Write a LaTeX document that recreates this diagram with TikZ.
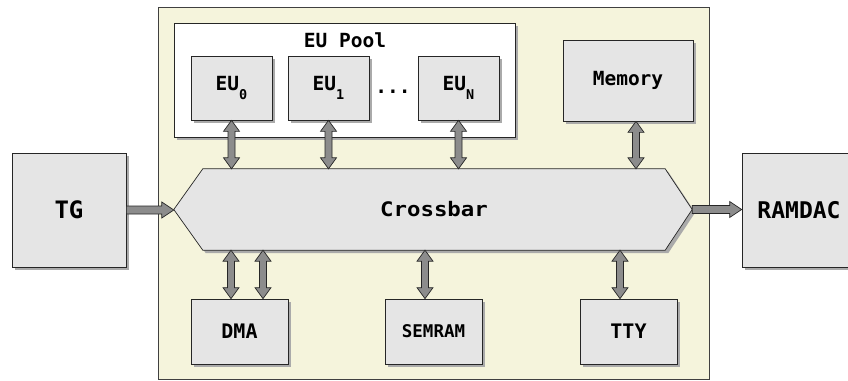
\documentclass[tikz,border=0pt]{standalone}
\usepackage{fontspec}
\setmonofont{DejaVu Sans Mono}
\usetikzlibrary{shadows,backgrounds,calc}
\definecolor{panelfill}{RGB}{245,244,220}
\definecolor{boxfill}{RGB}{229,229,229}
\definecolor{arrowfill}{RGB}{140,140,140}
\definecolor{shadowgray}{RGB}{170,170,170}
\newcommand{\fsz}[1]{\fontsize{#1}{#1}\selectfont}
\newcommand{\vfat}[2]{%
  \path[fatarrow] let \p1=(#1), \p2=(#2) in
    (\x1,\y1) -- (\x1+8pt,\y1-11pt) -- (\x1+3.5pt,\y1-11pt) -- (\x1+3.5pt,\y2+11pt)
    -- (\x1+8pt,\y2+11pt) -- (\x1,\y2) -- (\x1-8pt,\y2+11pt) -- (\x1-3.5pt,\y2+11pt)
    -- (\x1-3.5pt,\y1-11pt) -- (\x1-8pt,\y1-11pt) -- cycle;}
\newcommand{\hfat}[2]{%
  \path[fatarrow] let \p1=(#1), \p2=(#2) in
    (\x1,\y1+4pt) -- (\x2-12pt,\y1+4pt) -- (\x2-12pt,\y1+8pt) -- (\x2,\y1)
    -- (\x2-12pt,\y1-8pt) -- (\x2-12pt,\y1-4pt) -- (\x1,\y1-4pt) -- cycle;}
\newcommand{\EUlabel}[1]{EU\raisebox{-8.5pt}{\fsz{13.5}#1}}
\tikzset{
  blockbox/.style={draw=black!85, line width=0.7pt, fill=boxfill, inner sep=0pt,
    drop shadow={shadow xshift=3pt, shadow yshift=-3pt, fill=shadowgray, opacity=1},
    font=\ttfamily\bfseries\fsz{19.5}},
  poolbox/.style={draw=black!85, line width=0.7pt, fill=white, inner sep=0pt,
    drop shadow={shadow xshift=3pt, shadow yshift=-3pt, fill=shadowgray, opacity=1}},
  fatarrow/.style={draw=black!85, line width=0.7pt, fill=arrowfill},
  plaintext/.style={inner sep=0pt, font=\ttfamily\bfseries\fsz{19.5}}
}
\begin{document}
\begin{tikzpicture}[x=1pt,y=-1pt]
\useasboundingbox (0,0) rectangle (848,380);
\clip (0,0) rectangle (848,380);
% crossbar text holder
\node[inner sep=0pt, minimum width=462pt, minimum height=81pt,
  font=\ttfamily\bfseries\fsz{20}] (xb) at (434,209.5) {\scalebox{1.12}[1]{Crossbar}};
\begin{scope}[on background layer]
  \draw[draw=black!75, line width=0.7pt, fill=panelfill] (158,7) rectangle (709,379);
  \fill[shadowgray] ([shift={(3pt,-3pt)}]xb.north west) -- ([shift={(3pt,-3pt)}]xb.north east)
    -- ([shift={(30pt,-3pt)}]xb.east) -- ([shift={(3pt,-3pt)}]xb.south east)
    -- ([shift={(3pt,-3pt)}]xb.south west) -- ([shift={(-26pt,-3pt)}]xb.west) -- cycle;
  \draw[draw=black!85, line width=0.7pt, fill=boxfill] (xb.north west) -- (xb.north east)
    -- ([xshift=27pt]xb.east) -- (xb.south east) -- (xb.south west)
    -- ([xshift=-29pt]xb.west) -- cycle;
\end{scope}
\coordinate (xbL) at ([xshift=-29pt]xb.west);
\coordinate (xbR) at ([xshift=27pt]xb.east);
% EU pool
\node[poolbox, minimum width=341pt, minimum height=114pt] (pool) at (344.5,80) {};
\node[plaintext] (poollabel) at (345,40) {EU Pool};
\node[blockbox, minimum width=81pt, minimum height=64pt] (EU0) at (231.5,88) {\EUlabel{0}};
\node[blockbox, minimum width=81pt, minimum height=64pt] (EU1) at (328.5,88) {\EUlabel{1}};
\node[blockbox, minimum width=81pt, minimum height=64pt] (EUN) at (458.5,88) {\EUlabel{N}};
\node[plaintext] (dots) at (393,92) {...};
\node[blockbox, minimum width=130pt, minimum height=81pt] (Memory) at (628,80.5) {Memory};
% outer blocks
\node[blockbox, minimum width=114pt, minimum height=114pt, font=\ttfamily\bfseries\fsz{24}] (TG) at (69,210) {TG};
\node[blockbox, minimum width=114pt, minimum height=114pt, font=\ttfamily\bfseries\fsz{23}] (RAMDAC) at (799,210) {RAMDAC};
% bottom blocks
\node[blockbox, minimum width=97pt, minimum height=65pt, font=\ttfamily\bfseries\fsz{20}] (DMA) at (239.5,331.5) {DMA};
\node[blockbox, minimum width=97pt, minimum height=65pt, font=\ttfamily\bfseries\fsz{17.5}] (SEMRAM) at (433.5,331.5) {SEMRAM};
\node[blockbox, minimum width=97pt, minimum height=65pt, font=\ttfamily\bfseries\fsz{20}] (TTY) at (628.5,331.5) {TTY};
% connector anchor points
\coordinate (m1) at ([xshift=8pt]Memory.south);
\coordinate (d1) at ([xshift=-8.5pt]DMA.north);
\coordinate (d2) at ([xshift=23.5pt]DMA.north);
\coordinate (s1) at ([xshift=-8.5pt]SEMRAM.north);
\coordinate (t1) at ([xshift=-8.5pt]TTY.north);
% connectors
\vfat{EU0.south}{EU0.south |- xb.north}
\vfat{EU1.south}{EU1.south |- xb.north}
\vfat{EUN.south}{EUN.south |- xb.north}
\vfat{m1}{m1 |- xb.north}
\vfat{d1 |- xb.south}{d1}
\vfat{d2 |- xb.south}{d2}
\vfat{s1 |- xb.south}{s1}
\vfat{t1 |- xb.south}{t1}
\hfat{TG.east}{xbL}
\hfat{xbR}{RAMDAC.west}
\end{tikzpicture}
\end{document}
